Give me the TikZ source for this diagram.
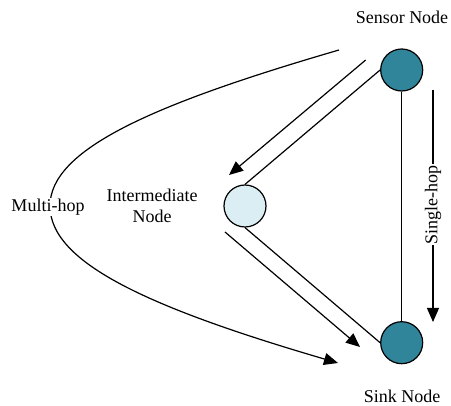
\documentclass[tikz,border=0pt]{standalone}
\usepackage{fontspec}
\setmainfont{Liberation Serif}
\usetikzlibrary{arrows.meta}
\definecolor{teal1}{RGB}{49,133,155}
\definecolor{pale1}{RGB}{218,238,243}
\tikzset{lbl/.style={font=\fontsize{18}{21}\selectfont, inner sep=1pt}}
\tikzset{arr/.style={-{Triangle[length=14pt,width=12pt]}}}
\tikzset{dark/.style={main, fill=teal1}}
\tikzset{light/.style={main, fill=pale1}}
\begin{document}
\begin{tikzpicture}[x=1pt,y=-1pt,line width=1.2pt,main/.style={draw, circle, minimum size=42pt, inner sep=0pt}]
    \useasboundingbox (0,0) rectangle (451,406);
    \node[dark] (0) at (401.7,70) {};
    \node[light] (1) at (245,206) {};
    \node[dark] (2) at (401.7,342.7) {};

    \node[lbl] (l0) at (402,17) {Sensor Node};
    \node[lbl] (l2) at (402,396) {Sink Node};
    \node[lbl, align=center] (l1) at (152,206) {Intermediate\\Node};

    \draw (0.west) -- (1.north);
    \draw (1.south) -- (2.west);
    \draw (0.south) -- (2.north);

    \coordinate (a0) at (365.7,60);
    \coordinate (a1) at (229,175);
    \coordinate (b0) at (225,232);
    \coordinate (b1) at (360,347);
    \draw[arr] (a0) -- (a1);
    \draw[arr] (b0) -- (b1);

    \coordinate (m0) at (339,50);
    \coordinate (m1) at (338,363);
    \draw[arr] (m0) .. controls (150,105) and (50,150) .. (50,206)
        .. controls (50,263) and (150,308) .. (m1);
    \node[lbl, fill=white] (m) at (48,207) {Multi-hop};

    \coordinate (h0) at (433,90);
    \coordinate (h1) at (433,322);
    \draw[arr] (h0) -- (h1);
    \node[lbl, fill=white, rotate=90] (h) at (433,205) {Single-hop};
\end{tikzpicture}
\end{document}
